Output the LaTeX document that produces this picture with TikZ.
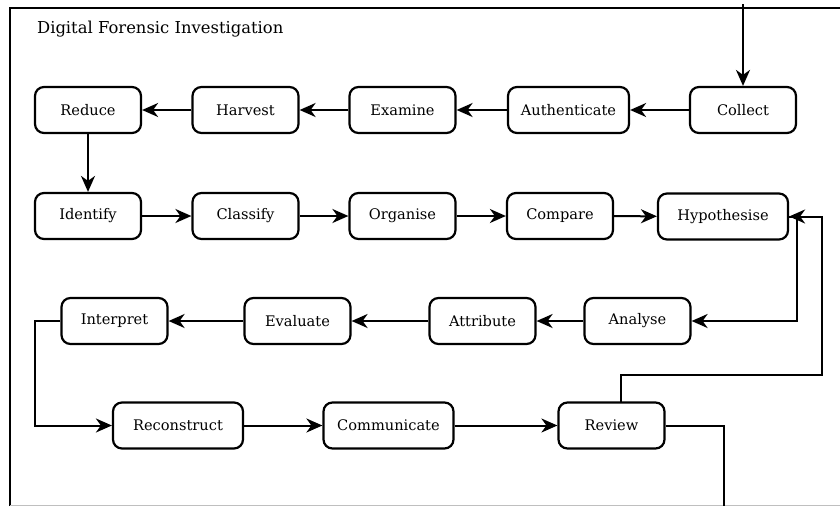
\documentclass[tikz,border=0pt]{standalone}
\usepackage{fontspec}
\setmainfont{DejaVu Serif}
\usetikzlibrary{arrows.meta}

\begin{document}
\begin{tikzpicture}
  [x=1pt,y=-1pt,line width=2pt,
   every node/.style={draw,rounded corners=9pt,line width=2.2pt,minimum width=106pt,
     minimum height=46pt,inner xsep=12pt,font=\fontsize{14.6}{16}\selectfont},
   wide/.style={minimum width=130pt},
   flow/.style={-{Stealth[length=16pt,width=14pt,inset=5pt]}}]
  \useasboundingbox (0,0) rectangle (840,506);
  % frame
  \draw (10,506) -- (10,8) -- (840,8);
  \draw[gray!50,line width=1pt] (10,505) -- (840,505);
  \node[draw=none,minimum width=0pt,anchor=west,inner xsep=0pt,
    font=\fontsize{16.4}{18}\selectfont] (title) at (36,29) {Digital Forensic Investigation};

  % row 1
  \node (reduce)  at (88,110)    {Reduce};
  \node (harvest) at (245.5,110) {Harvest};
  \node (examine) at (402.5,110) {Examine};
  \node[minimum width=121pt] (authen) at (568.5,110) {Authenticate};
  \node (collect) at (743,110)   {Collect};
  % row 2
  \node (identify) at (88,216)    {Identify};
  \node (classify) at (245.5,216) {Classify};
  \node (organise) at (402.5,216) {Organise};
  \node (compare)  at (560,216)   {Compare};
  \node[wide] (hypo) at (723,216.5) {Hypothesise};
  % row 3
  \node (interpret) at (114.5,321) {Interpret};
  \node (evaluate)  at (297.5,321) {Evaluate};
  \node (attribute) at (482.5,321) {Attribute};
  \node (analyse)   at (637.5,321) {Analyse};
  % row 4
  \node[wide] (reconstr) at (178,425.5)   {Reconstruct};
  \node[wide] (commun)   at (388.5,425.5) {Communicate};
  \node (review)   at (611.5,425.5) {Review};

  \coordinate (in)  at (743,4);
  \coordinate (out) at (724,506);

  \foreach \from/\to in {in/collect,collect/authen,authen/examine,examine/harvest,
      harvest/reduce,reduce/identify,identify/classify,classify/organise,
      organise/compare,compare/hypo,attribute/evaluate,evaluate/interpret,
      analyse/attribute,reconstr/commun,commun/review}
    \draw[flow] (\from) -- (\to);

  \draw[flow] (hypo.east) -- (797,216.5) |- (analyse.east);
  \draw[flow] (621,402) |- (822,375) |- (hypo.east);
  \draw[flow] (interpret.west) -- (35,321) |- (reconstr.west);
  \draw (review.east) -| (out);
\end{tikzpicture}
\end{document}
